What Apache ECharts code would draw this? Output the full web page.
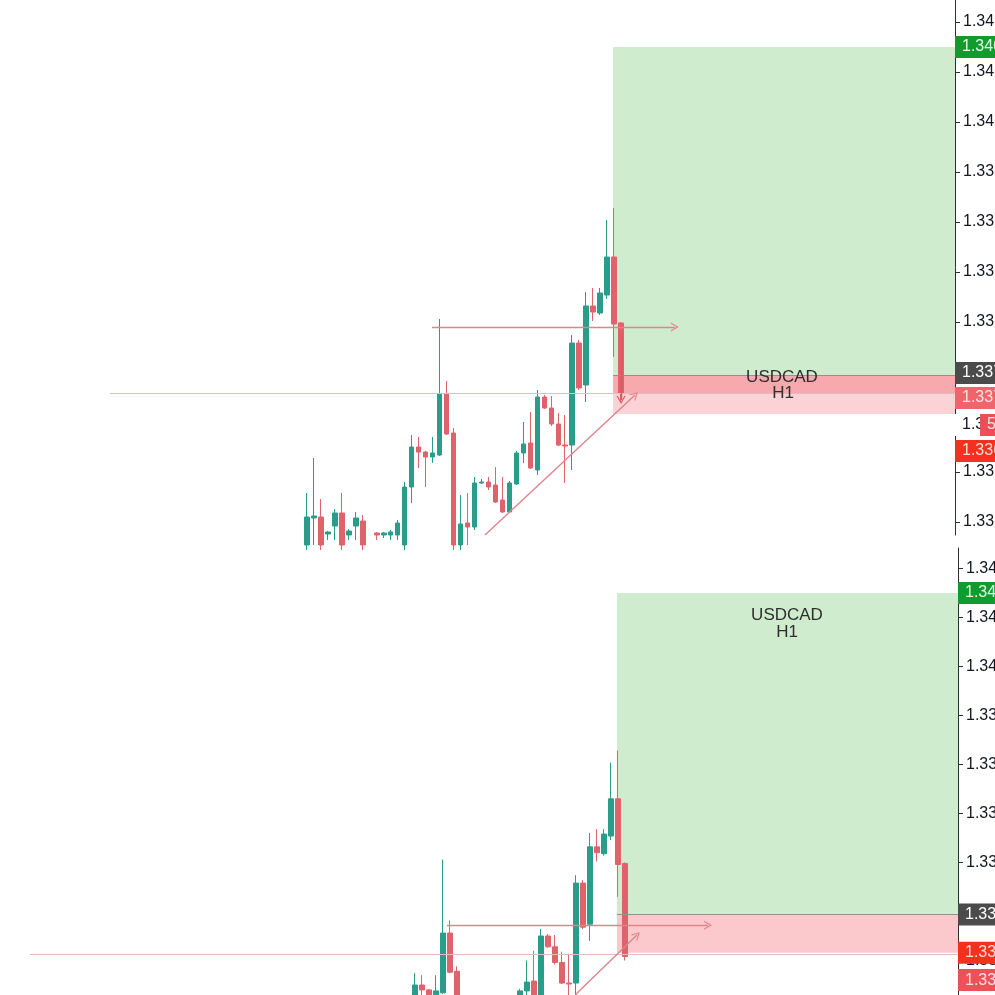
<!DOCTYPE html>
<html><head><meta charset="utf-8">
<script src="https://cdn.jsdelivr.net/npm/echarts@6/dist/echarts.min.js"></script>
<style>html,body{margin:0;padding:0;background:#fff}#c{width:995px;height:995px}</style>
</head><body><div id="c"></div>
<script>
// ---- data (USDCAD H1 candles) ----
const opens  = [1.33577,1.33604,1.33605,1.33588,1.33596,1.33609,1.33587,1.33596,1.33601,1.33582,1.33589,1.33587,1.33587,1.33587,1.33577,1.33635,1.33675,1.33670,1.33665,1.33667,1.33728,1.33689,1.33577,1.33599,1.33595,1.33639,1.33640,1.33637,1.33622,1.33610,1.33638,1.33669,1.33679,1.33652,1.33725,1.33714,1.33698,1.33677,1.33677,1.33779,1.33737,1.33816,1.33809,1.33827,1.33865,1.33799];
const closes = [1.33605,1.33606,1.33577,1.33590,1.33609,1.33577,1.33591,1.33604,1.33577,1.33577,1.33587,1.33589,1.33590,1.33599,1.33635,1.33675,1.33670,1.33665,1.33669,1.33728,1.33688,1.33577,1.33598,1.33595,1.33639,1.33640,1.33635,1.33620,1.33610,1.33639,1.33669,1.33678,1.33654,1.33725,1.33714,1.33698,1.33677,1.33676,1.33779,1.33734,1.33816,1.33810,1.33829,1.33865,1.33798,1.33729];
const lows   = [1.33572,1.33577,1.33572,1.33582,1.33582,1.33572,1.33582,1.33582,1.33572,1.33572,1.33582,1.33584,1.33582,1.33582,1.33572,1.33619,1.33654,1.33635,1.33659,1.33666,1.33687,1.33572,1.33572,1.33577,1.33592,1.33638,1.33632,1.33619,1.33609,1.33609,1.33637,1.33659,1.33653,1.33647,1.33713,1.33696,1.33676,1.33639,1.33652,1.33732,1.33720,1.33801,1.33807,1.33823,1.33765,1.33720];
const highs  = [1.33629,1.33664,1.33623,1.33591,1.33613,1.33629,1.33593,1.33610,1.33607,1.33584,1.33590,1.33590,1.33592,1.33602,1.33640,1.33687,1.33685,1.33671,1.33685,1.33803,1.33741,1.33694,1.33627,1.33629,1.33645,1.33643,1.33645,1.33655,1.33645,1.33641,1.33671,1.33700,1.33710,1.33732,1.33727,1.33726,1.33709,1.33707,1.33787,1.33782,1.33830,1.33834,1.33834,1.33902,1.33914,1.33800];
// last candle in the lower screenshot (later moment): open, close, low, high
const lastCandleLower = [1.33799, 1.33704, 1.33700, 1.33800];

const priceTicks = [1.3410,1.3405,1.3400,1.3395,1.3390,1.3385,1.3380,1.3375,1.3370,1.3365,1.3360];
const symbolName = 'USDCAD', timeframe = 'H1';

// position tool levels: [target, entry, stop]
const positionLevels = [1.34075, 1.33747, 1.33708];
const positionStartIdx = 43.85;
// upper panel
const upperCurrent = 1.33729;
const upperRay = [-28.2, 1.33729];               // start index, price
const upperArrow = [17.9, 52.7, 1.33795];        // from idx, to idx, price
const upperDiag = [[25.5, 1.33587],[47.0, 1.33727]];
const upperDownArrow = [[45, 1.33790],[45, 1.33722]];
const upperTags = [1.34075, 1.33749, 1.33724, 1.33697, 1.33671];
const countdownText = '59:48';
// lower panel
const lowerRay = [-40.0, 1.33706];
const lowerArrow = [19.57, 56.86, 1.33736];
const lowerDiag = [[37.86, 1.336648],[46.71, 1.33726]];
const lowerTags = [1.34075, 1.33747, 1.33708, 1.33680];

// ---- chart ----
const UP = '#2a9d8a', DOWN = '#e0626a';
const chevron = 'path://M0,10 L5,0 L10,10 L8.6,10 L5,2.8 L1.4,10 Z';
const arrowStyle = {color:'#dc858c', width:1.4, type:'solid'};
const rayStyle = {color:'#e2bcc0', width:1, type:'solid'};
const entryStyle = {color:'#9b8d8d', width:1, type:'solid'};
const FONT = 'Liberation Sans, Arial';
const FS = 16;

const xTop = {min:-43.98, max:92.84};
const xBot = {min:-44.286, max:92.571};
const yTop = {min:1.33587, max:1.34122};
const yBot = {min:1.336648, max:1.341209};

function candles(lowerVersion){
  return opens.map((o,i)=>{
    if (lowerVersion && i === opens.length-1) return [i].concat(lastCandleLower);
    return [i, o, closes[i], lows[i], highs[i]];
  });
}
function fmt(v){ return v.toFixed(5); }
function tag(x, v, bg, fg, dist, text){
  return {value:[x, v],
    label:{show:true, position:'right', distance:dist||0, formatter: text || fmt(v),
      backgroundColor:bg, color:fg, fontSize:FS, fontFamily:FONT,
      padding:[3,6,3,7], lineHeight:16}};
}
function seg(a, b, endSym, style){
  return [{coord:a, symbol:'none', lineStyle:style},
          {coord:b, symbol:endSym||'none', symbolSize:[9,8], lineStyle:style}];
}
function yAxis(grid, r){
  const vals = priceTicks.filter(v=>v>=r.min&&v<=r.max);
  return {gridIndex:grid, type:'value', position:'right', min:r.min, max:r.max, scale:true,
    axisLine:{show:true, onZero:false, lineStyle:{color:'#2a2e39', width:1}},
    axisTick:{show:true, length:5, customValues:vals, lineStyle:{color:'#2a2e39'}},
    axisLabel:{show:true, customValues:vals, formatter:v=>fmt(v),
      margin:8, color:'#131722', fontSize:FS, fontFamily:FONT},
    splitLine:{show:false}};
}
function tagSeries(xi, yi, items){
  return {type:'scatter', xAxisIndex:xi, yAxisIndex:yi, data:items, clip:false, silent:true,
    symbol:'circle', symbolSize:0.01, itemStyle:{color:'rgba(0,0,0,0)', opacity:1}, z:6,
    emphasis:{disabled:true}};
}

const [tp, entry, stop] = positionLevels;
const T = xTop.max, B = xBot.max;

const option = {
  animation:false,
  backgroundColor:'#ffffff',
  grid:[{left:0, top:0, width:955, height:535, outerBoundsMode:'none', containLabel:false},
        {left:0, top:548, width:958, height:447, outerBoundsMode:'none', containLabel:false}],
  xAxis:[{gridIndex:0, type:'value', min:xTop.min, max:xTop.max, show:false},
         {gridIndex:1, type:'value', min:xBot.min, max:xBot.max, show:false}],
  yAxis:[yAxis(0, yTop), yAxis(1, yBot)],
  series:[
    {type:'candlestick', xAxisIndex:0, yAxisIndex:0, barWidth:5, data:candles(false),
     encode:{x:0, y:[1,2,3,4]}, clip:true,
     itemStyle:{color:UP, color0:DOWN, borderColor:UP, borderColor0:DOWN, borderWidth:1},
     markArea:{silent:true, data:[
       [{xAxis:positionStartIdx, yAxis:tp, itemStyle:{color:'#cfeccf'}},{xAxis:T, yAxis:entry}],
       [{xAxis:positionStartIdx, yAxis:entry, itemStyle:{color:'#f7a9ae'}},{xAxis:T, yAxis:upperCurrent}],
       [{xAxis:positionStartIdx, yAxis:upperCurrent, itemStyle:{color:'#fbd3d6'}},{xAxis:T, yAxis:stop}]
     ]},
     markLine:{silent:true, symbol:['none','none'], label:{show:false}, data:[
       seg([upperRay[0], upperRay[1]], [T, upperRay[1]], 'none', rayStyle),
       seg([positionStartIdx, entry], [T, entry], 'none', entryStyle),
       seg([upperArrow[0], upperArrow[2]], [upperArrow[1], upperArrow[2]], chevron, arrowStyle),
       seg(upperDiag[0], upperDiag[1], chevron, arrowStyle),
       seg(upperDownArrow[0], upperDownArrow[1], chevron, {color:'#e0565f', width:1.4, type:'solid'})
     ]}
    },
    tagSeries(0, 0, [
       tag(T, upperTags[0], '#0f9b2e', '#e3ffe3'),
       tag(T, upperTags[1], '#4b4b4b', '#ffffff'),
       tag(T, upperTags[2], '#f0646b', '#ffe2e4'),
       tag(T, upperTags[3], '#ffffff', '#131722'),
       tag(T, upperTags[3], '#ec4f57', '#ffe5e6', 25, countdownText),
       tag(T, upperTags[4], '#f4301f', '#ffdcd8')
    ]),
    {type:'candlestick', xAxisIndex:1, yAxisIndex:1, barWidth:5, data:candles(true),
     encode:{x:0, y:[1,2,3,4]}, clip:true,
     itemStyle:{color:UP, color0:DOWN, borderColor:UP, borderColor0:DOWN, borderWidth:1},
     markArea:{silent:true, data:[
       [{xAxis:positionStartIdx, yAxis:tp, itemStyle:{color:'#cfeccf'}},{xAxis:B, yAxis:entry}],
       [{xAxis:positionStartIdx, yAxis:entry, itemStyle:{color:'#fbc9cc'}},{xAxis:B, yAxis:stop}]
     ]},
     markLine:{silent:true, symbol:['none','none'], label:{show:false}, data:[
       seg([lowerRay[0], lowerRay[1]], [B, lowerRay[1]], 'none', rayStyle),
       seg([positionStartIdx, entry], [B, entry], 'none', entryStyle),
       seg([lowerArrow[0], lowerArrow[2]], [lowerArrow[1], lowerArrow[2]], chevron, arrowStyle),
       seg(lowerDiag[0], lowerDiag[1], chevron, arrowStyle)
     ]}
    },
    tagSeries(1, 1, [
       tag(B, lowerTags[0], '#0f9b2e', '#e3ffe3'),
       tag(B, lowerTags[1], '#4b4b4b', '#ffffff'),
       tag(B, lowerTags[2], '#f4301f', '#ffdcd8'),
       tag(B, lowerTags[3], '#ee5058', '#ffe2e4')
    ])
  ],
  graphic:[
    {type:'text', x:782, y:377, z:100, style:{text:symbolName, textAlign:'center', textVerticalAlign:'middle', fontSize:17, fontFamily:FONT, fill:'#2e2e2e'}},
    {type:'text', x:783, y:393, z:100, style:{text:timeframe, textAlign:'center', textVerticalAlign:'middle', fontSize:17, fontFamily:FONT, fill:'#2e2e2e'}},
    {type:'text', x:787, y:615, z:100, style:{text:symbolName, textAlign:'center', textVerticalAlign:'middle', fontSize:17, fontFamily:FONT, fill:'#2e2e2e'}},
    {type:'text', x:787, y:632, z:100, style:{text:timeframe, textAlign:'center', textVerticalAlign:'middle', fontSize:17, fontFamily:FONT, fill:'#2e2e2e'}}
  ]
};
const chart = echarts.init(document.getElementById('c'));
chart.setOption(option);
</script>
</body></html>
